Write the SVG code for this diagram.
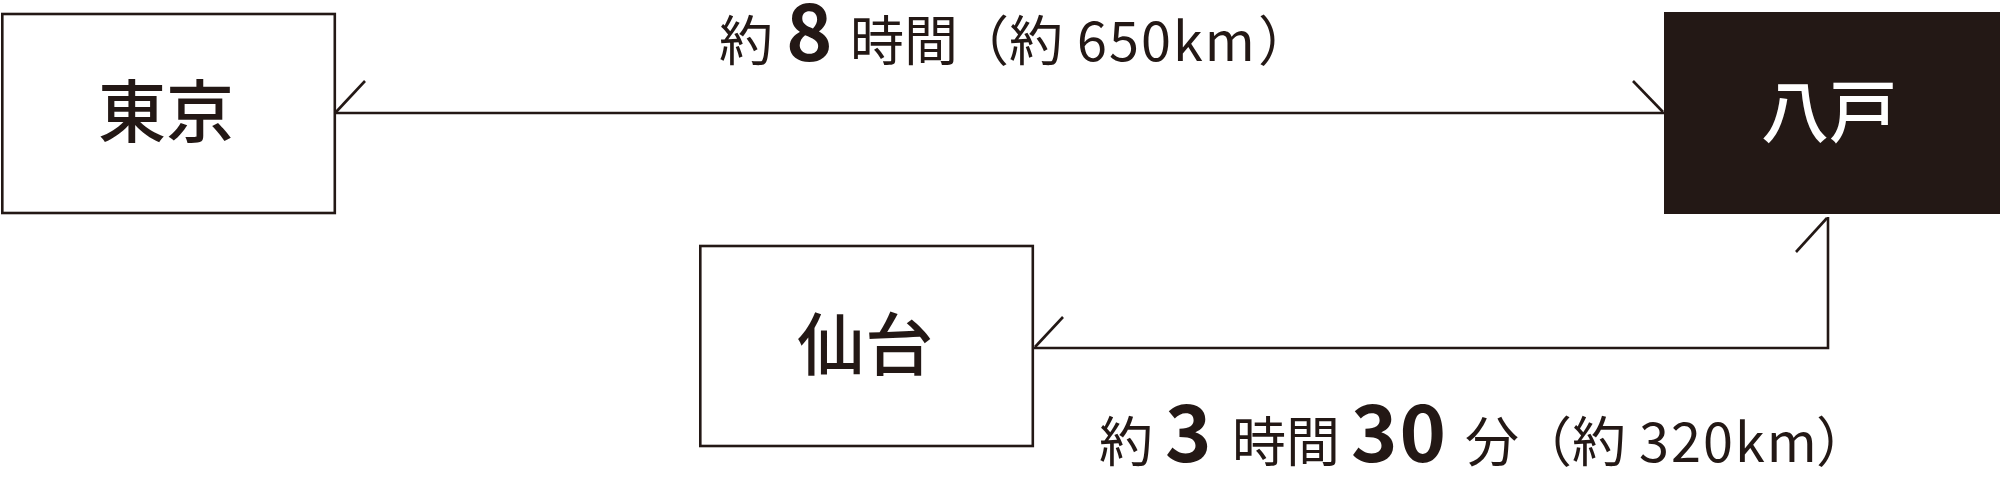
<svg xmlns="http://www.w3.org/2000/svg" width="2000" height="480" viewBox="0 0 2000 480">
<style>
.box{fill:#ffffff;stroke:#231815;stroke-width:2.6}
.dark{fill:#231815;stroke:none}
.node{font-family:"Noto Sans CJK JP","Noto Sans",sans-serif;font-size:68px;font-weight:500;text-anchor:middle}
.lbl{font-family:"Noto Sans CJK JP","Noto Sans",sans-serif;font-size:54px;font-weight:400;fill:#231815}
.big{font-family:"Noto Sans CJK JP","Noto Sans",sans-serif;font-size:79px;font-weight:600;fill:#231815}
.km{letter-spacing:2px}
.ln{fill:none;stroke:#231815;stroke-width:2.6;stroke-linecap:butt;stroke-linejoin:miter}
</style>
<rect width="2000" height="480" fill="#ffffff"/>
<g id="tokyo">
<rect class="box" x="2.3" y="14" width="332.5" height="199"/>
<text class="node" x="166" y="137" fill="#231815">東京</text>
</g>
<g id="hachinohe">
<rect class="dark" x="1664" y="12" width="336" height="202"/>
<text class="node" x="1829" y="137" fill="#ffffff">八戸</text>
</g>
<g id="sendai">
<rect class="box" x="700.3" y="246" width="332.5" height="200"/>
<text class="node" x="865" y="370" fill="#231815">仙台</text>
</g>
<g id="connectors">
<path class="ln" d="M335,113 H1664"/>
<path class="ln" d="M336,112 L365,81"/>
<path class="ln" d="M1663,112 L1633,81"/>
<path class="ln" d="M1828,217 V348 H1034"/>
<path class="ln" d="M1827,218 L1796,252"/>
<path class="ln" d="M1035,347 L1063,317"/>
</g>
<g id="label-top">
<text class="lbl" x="719" y="61">約</text>
<text class="big" x="786" y="61">8</text>
<text class="lbl" x="850" y="61">時間</text>
<text class="lbl" x="955" y="61">（約</text>
<text class="lbl km" x="1077" y="61">650km</text>
<text class="lbl" x="1258" y="61">）</text>
</g>
<g id="label-bottom">
<text class="lbl" x="1099" y="462">約</text>
<text class="big" x="1165" y="462">3</text>
<text class="lbl" x="1232" y="462">時間</text>
<text class="big km" x="1351" y="462">30</text>
<text class="lbl" x="1465" y="462">分</text>
<text class="lbl" x="1518" y="462">（約</text>
<text class="lbl km" x="1639" y="462">320km</text>
<text class="lbl" x="1816" y="462">）</text>
</g>
</svg>
